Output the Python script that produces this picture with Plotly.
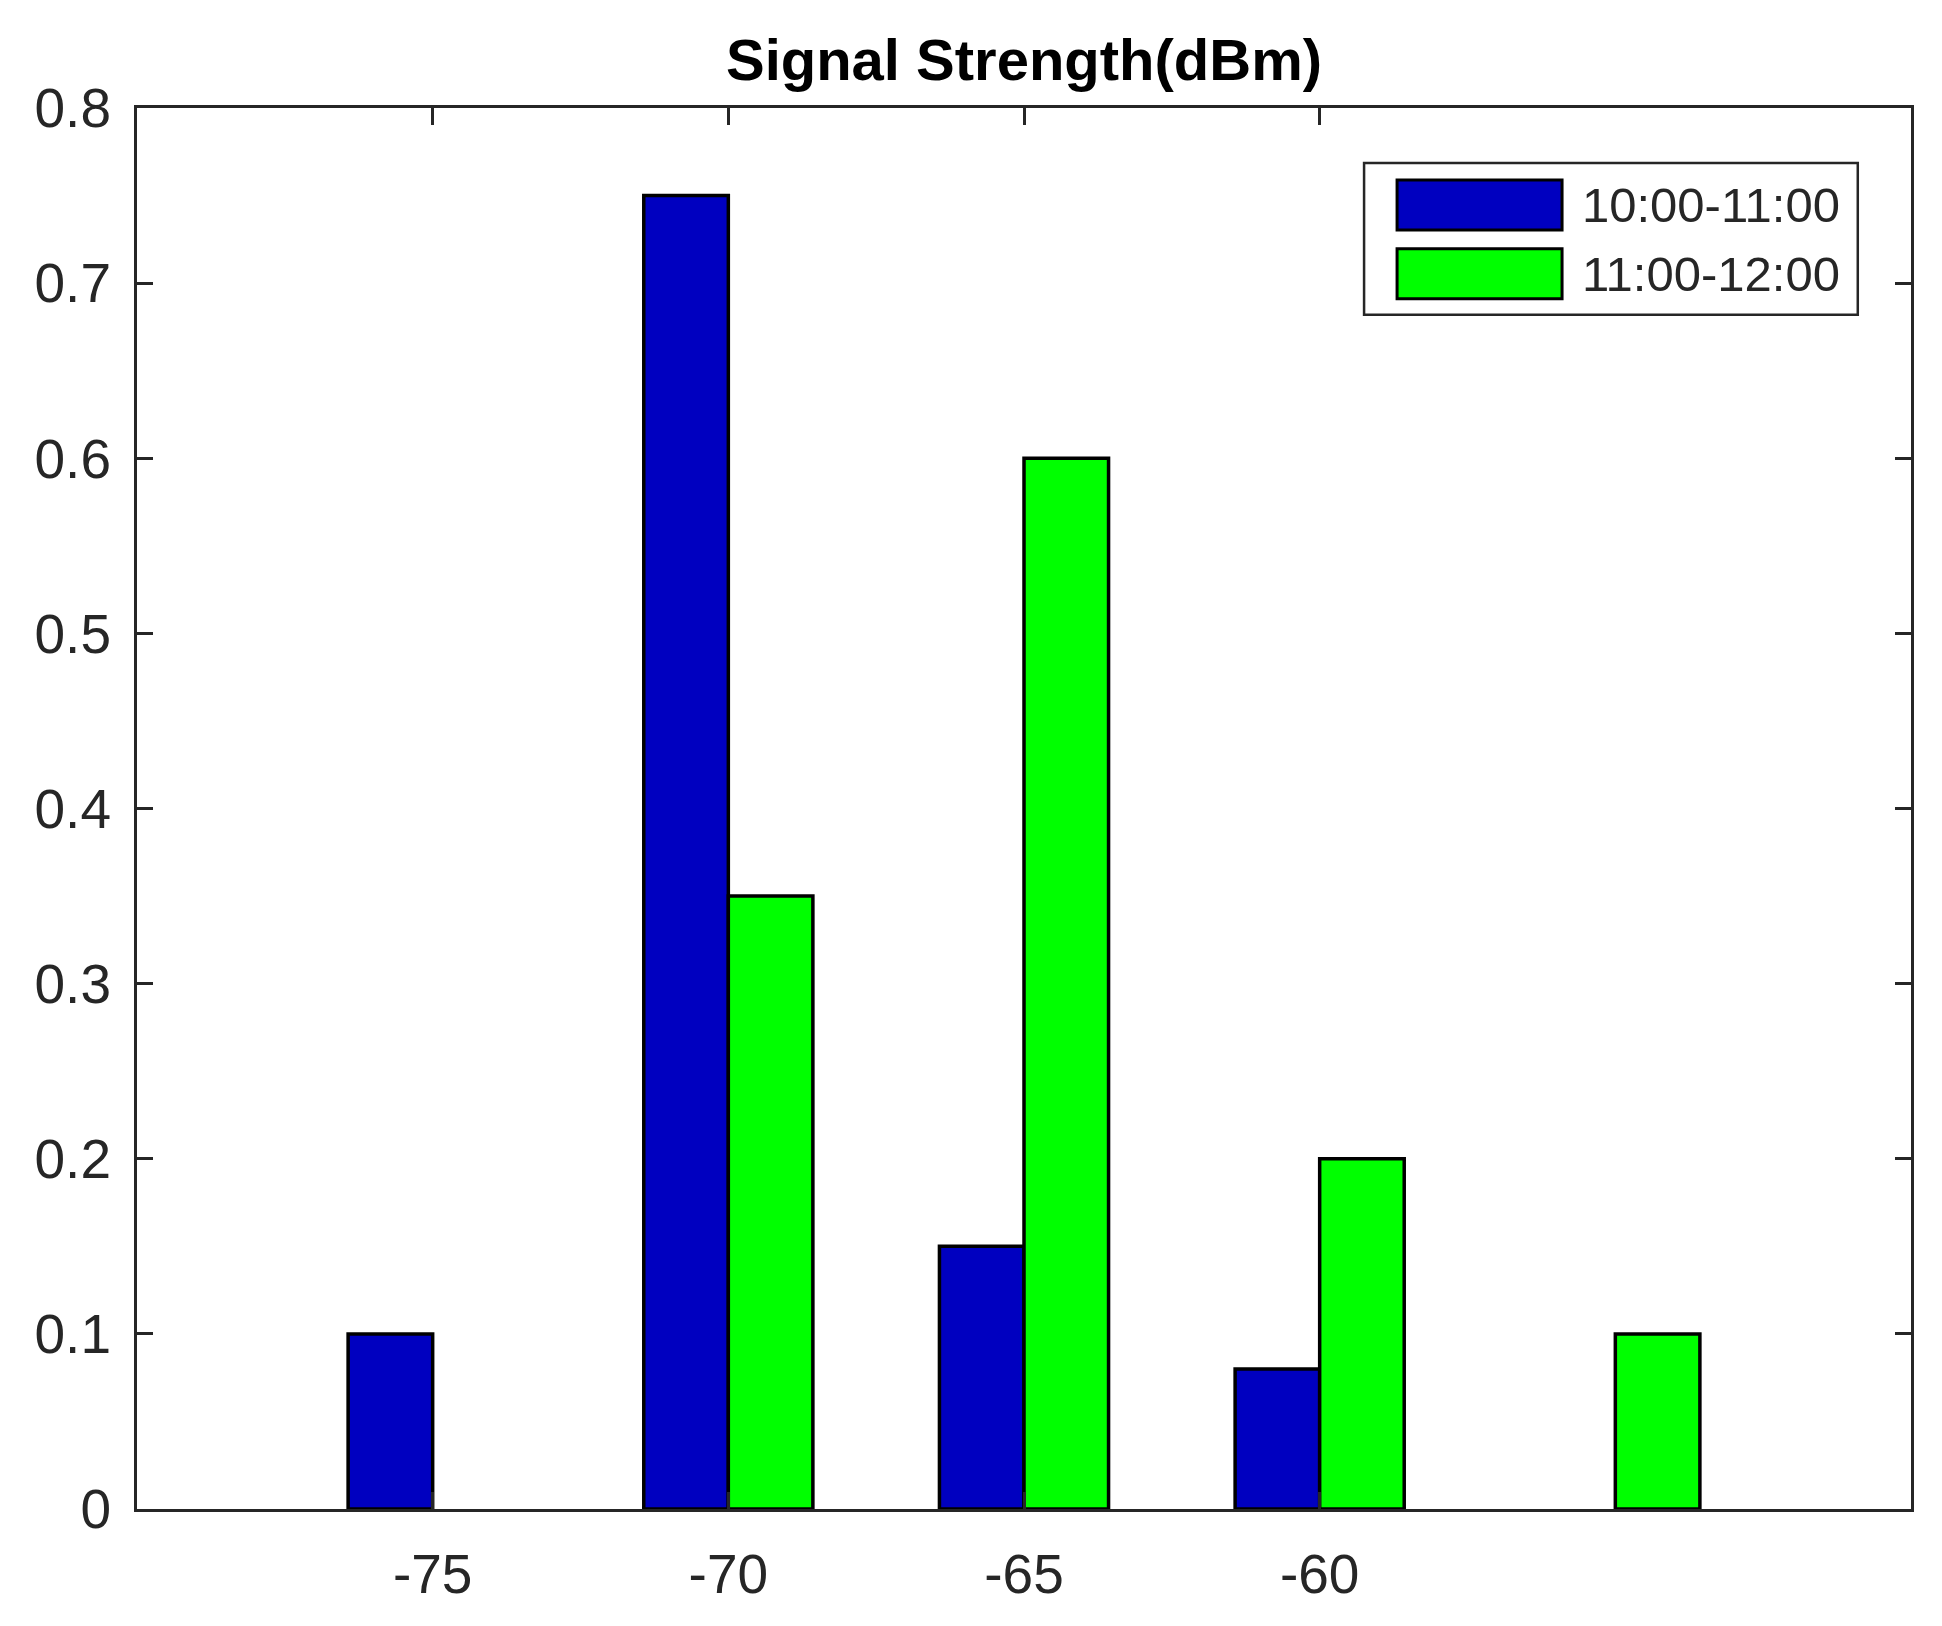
import plotly.graph_objects as go

# ---- data ----
bins = [-75, -70, -65, -60, -55]
series_names = ["10:00-11:00", "11:00-12:00"]
vals_1011 = [0.10, 0.75, 0.15, 0.08, None]
vals_1112 = [None, 0.35, 0.60, 0.20, 0.10]
series_colors = ["#0000C0", "#00FF00"]
x_tickvals = [-75, -70, -65, -60]
y_tickvals = [0, 0.1, 0.2, 0.3, 0.4, 0.5, 0.6, 0.7, 0.8]
y_ticktext = ["0", "0.1", "0.2", "0.3", "0.4", "0.5", "0.6", "0.7", "0.8"]

W, H = 1942, 1626
BAR_W = 1.43
FONT = "Liberation Sans, Arial, sans-serif"
AXC = "#262626"

fig = go.Figure()
for name, vals, col, off in zip(series_names, [vals_1011, vals_1112], series_colors, [-BAR_W, 0]):
    fig.add_trace(go.Bar(
        x=bins, y=vals, name=name, width=BAR_W, offset=off,
        marker=dict(color=col, line=dict(color="black", width=3.5)),
        showlegend=False,
    ))

# manual MATLAB-style legend (paper coords)
fig.add_shape(type="rect", xref="paper", yref="paper",
              x0=0.6917, x1=0.970, y0=0.8524, y1=0.9608,
              line=dict(color=AXC, width=2.5), fillcolor="white", layer="above")
sw_y = [(0.9130, 0.9486), (0.8638, 0.8996)]
for (y0, y1), col, name in zip(sw_y, series_colors, series_names):
    fig.add_shape(type="rect", xref="paper", yref="paper",
                  x0=0.7103, x1=0.8033, y0=y0, y1=y1,
                  line=dict(color="black", width=3), fillcolor=col, layer="above")
    fig.add_annotation(xref="paper", yref="paper", x=0.8134, y=(y0 + y1) / 2,
                       text=name, showarrow=False, xanchor="left", yanchor="middle",
                       font=dict(family=FONT, size=49, color="#262626"))

fig.update_layout(
    width=W, height=H,
    margin=dict(l=129, r=39, t=100, b=125),
    paper_bgcolor="white", plot_bgcolor="white",
    barmode="overlay",
    title=dict(text="<b>Signal Strength(dBm)</b>", x=0.5, xref="paper",
               y=1 - 52 / H, yanchor="middle",
               font=dict(family=FONT, size=58, color="black")),
    font=dict(family=FONT, size=55, color="#262626"),
)
fig.update_xaxes(
    range=[-80, -50], tickvals=x_tickvals, ticktext=[str(v) for v in x_tickvals],
    ticks="inside", ticklen=17, tickwidth=2.5, tickcolor=AXC,
    showline=True, linecolor=AXC, linewidth=3, mirror="ticks",
    showgrid=False, zeroline=False, ticklabelstandoff=15,
    tickfont=dict(family=FONT, size=55, color="#262626"),
)
fig.update_yaxes(
    range=[0, 0.8], tickvals=y_tickvals, ticktext=y_ticktext,
    ticks="inside", ticklen=16, tickwidth=2.5, tickcolor=AXC,
    showline=True, linecolor=AXC, linewidth=3, mirror="ticks",
    showgrid=False, zeroline=False, ticklabelstandoff=12,
    tickfont=dict(family=FONT, size=55, color="#262626"),
)

fig.write_html("out.html")
